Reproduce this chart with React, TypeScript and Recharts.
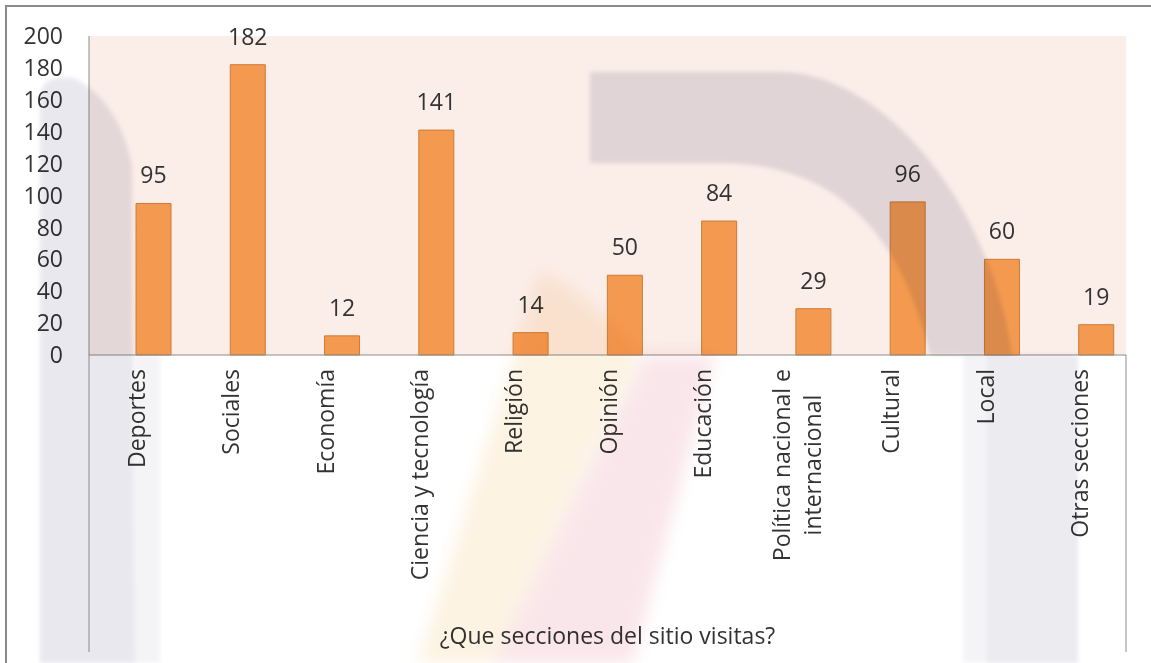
import { BarChart, Bar, XAxis, YAxis, CartesianGrid, LabelList } from "recharts";

const SECTIONS = [
  "Deportes",
  "Sociales",
  "Economía",
  "Ciencia y tecnología",
  "Religión",
  "Opinión",
  "Educación",
  "Política nacional e\ninternacional",
  "Cultural",
  "Local",
  "Otras secciones",
];

const VISITS = [95, 182, 12, 141, 14, 50, 84, 29, 96, 60, 19];

const Y_TICKS = [0, 20, 40, 60, 80, 100, 120, 140, 160, 180, 200];

const AXIS_TITLE = "¿Que secciones del sitio visitas?";

const FONT = '"Open Sans", "Noto Sans", sans-serif';
const TEXT_COLOR = "#333333";
const AXIS_COLOR = "#8c8c8c";

// excel left an empty first series, so the real bar sits right of the band centre
const chartData = SECTIONS.map((name, i) => ({ name, blank: null, visits: VISITS[i] }));

let ctx: CanvasRenderingContext2D | null = null;
function textWidth(s: string): number {
  if (!ctx) ctx = document.createElement("canvas").getContext("2d");
  if (!ctx) return s.length * 11;
  ctx.font = `23px ${FONT}`;
  return ctx.measureText(s).width;
}

function CategoryTick({ x, y, payload }: any) {
  const lines = String(payload.value).split("\n");
  const longest = Math.max(...lines.map(textWidth));
  const lineHeight = 31;
  return (
    <g transform={`translate(${x},${y})`}>
      {lines.map((line, i) => (
        <text
          key={i}
          transform="rotate(-90)"
          x={-(14 + longest / 2)}
          y={(i - (lines.length - 1) / 2) * lineHeight}
          textAnchor="middle"
          dominantBaseline="central"
          fontSize={23}
          fontFamily={FONT}
          fill={TEXT_COLOR}
        >
          {line}
        </text>
      ))}
    </g>
  );
}

export default function App() {
  return (
    <div
      style={{
        position: "fixed",
        left: 0,
        top: 0,
        width: 1151,
        height: 663,
        overflow: "hidden",
        background: "#ffffff",
        fontFamily: FONT,
      }}
    >
      <BarChart
        width={1151}
        height={663}
        data={chartData}
        margin={{ top: 36, right: 25, bottom: 0, left: 0 }}
        barGap={0}
      >
        <CartesianGrid stroke="none" vertical={false} fill="#fbede8" />
        <XAxis
          dataKey="name"
          height={308}
          interval={0}
          tickLine={false}
          tickSize={0}
          tickMargin={0}
          axisLine={{ stroke: AXIS_COLOR }}
          tick={<CategoryTick />}
          label={{
            value: AXIS_TITLE,
            position: "insideBottom",
            offset: 19,
            fontSize: 23,
            fontFamily: FONT,
            fill: TEXT_COLOR,
          }}
        />
        <YAxis
          width={89}
          domain={[0, 200]}
          ticks={Y_TICKS}
          interval={0}
          tickLine={false}
          tickSize={0}
          tickMargin={26}
          axisLine={{ stroke: AXIS_COLOR }}
          tick={{ fontSize: 23, fontFamily: FONT, fill: TEXT_COLOR }}
        />
        <Bar dataKey="blank" barSize={35} fill="none" isAnimationActive={false} />
        <Bar
          dataKey="visits"
          barSize={35}
          fill="#f39a50"
          stroke="#cf7a36"
          strokeWidth={1}
          isAnimationActive={false}
        >
          <LabelList
            dataKey="visits"
            position="top"
            offset={20}
            style={{ fontSize: 23, fontFamily: FONT, fill: TEXT_COLOR }}
          />
        </Bar>
      </BarChart>

      {/* faint document watermark, frame and the extended axis lines */}
      <svg
        width={1151}
        height={663}
        style={{
          position: "absolute",
          left: 0,
          top: 0,
          pointerEvents: "none",
          mixBlendMode: "multiply",
        }}
      >
        <defs>
          <filter id="soft" x="-5%" y="-5%" width="110%" height="110%">
            <feGaussianBlur stdDeviation="2" />
          </filter>
          <filter id="softer" x="-20%" y="-20%" width="140%" height="140%">
            <feGaussianBlur stdDeviation="8" />
          </filter>
        </defs>
        <g filter="url(#soft)">
          <path d="M40,663 L40,100 Q40,78 62,78 L74,78 Q118,100 132,165 L135,663 Z" fill="#e8e8ee" />
          <path d="M135,355 L160,355 L160,663 L135,663 Z" fill="#f4f4f7" />
          <path
            d="M590,72 L780,72 C880,72 990,200 1012,355 L930,355 C905,250 850,163 720,163 L590,163 Z"
            fill="#e5e4ec"
          />
          <path d="M963,355 L987,355 L987,663 L963,663 Z" fill="#f4f4f7" />
          <path d="M987,355 L1078,355 L1078,663 L987,663 Z" fill="#ebebf0" />
        </g>
        <g filter="url(#softer)">
          <path d="M540,272 Q585,290 640,355 L493,663 L418,663 Z" fill="#fdf3e3" />
          <path d="M645,355 L715,355 L633,663 L493,663 Z" fill="#f9e6ea" />
        </g>
        <line x1={89} y1={355} x2={89} y2={652} stroke={AXIS_COLOR} strokeWidth={1} />
        <line x1={1126} y1={355} x2={1126} y2={652} stroke={AXIS_COLOR} strokeWidth={1} />
        <path d="M6,663 L6,6 L1151,6" fill="none" stroke="#8a8a8a" strokeWidth={2} />
      </svg>
    </div>
  );
}
